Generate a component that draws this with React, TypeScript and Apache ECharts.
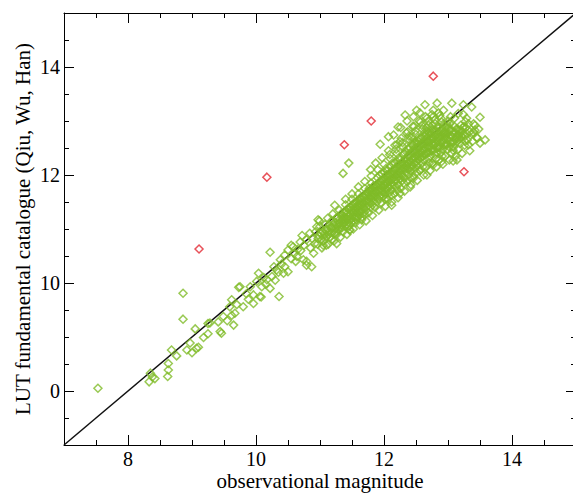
import React, { useEffect, useRef } from 'react';
import * as echarts from 'echarts';

const axisMin = 7;
const axisMax = 15;
const minorStep = 0.5;
const majorTickValues = [8, 10, 12, 14];
const xTickLabels = ['8', '10', '12', '14'];
const yTickLabels = ['0', '10', '12', '14'];
const xTitle = 'observational magnitude';
const yTitle = 'LUT fundamental catalogue (Qiu, Wu, Han)';
const identityLine = [[7, 7], [15, 15]];

const outlierPoints = [
  [9.11, 10.63], [10.17, 11.96], [11.38, 12.56], [11.8, 13.0], [12.77, 13.83], [13.25, 12.06],
];

const sparsePoints = [
  [7.53, 8.05],
  [8.33, 8.17], [8.35, 8.33], [8.42, 8.23], [8.38, 8.26],
  [8.62, 8.27], [8.63, 8.39], [8.63, 8.51], [8.68, 8.76], [8.76, 8.65],
  [8.86, 9.33], [8.86, 9.81],
  [8.92, 8.76], [8.97, 8.89], [9.0, 8.71], [9.07, 8.79], [9.1, 8.81], [9.05, 9.15], [9.18, 8.99],
  [9.25, 9.25], [9.28, 9.26], [9.25, 9.06], [9.41, 9.28], [9.44, 9.1],
  [9.46, 9.07], [9.49, 9.38], [9.59, 9.56], [9.62, 9.69], [9.65, 9.22], [9.67, 9.44], [9.73, 9.92],
  [9.75, 9.93], [9.8, 9.56], [9.62, 9.4], [9.55, 9.3], [9.7, 9.6],
  [9.91, 9.93], [9.96, 9.62], [9.96, 9.78], [10.01, 10.03], [10.04, 10.18], [10.06, 9.75], [10.08, 9.74],
  [10.09, 9.93], [10.17, 10.06], [10.22, 9.9], [10.22, 10.57], [10.25, 10.12], [10.32, 10.24], [10.36, 9.75],
  [10.38, 10.43], [10.43, 10.18], [10.45, 10.52], [10.5, 10.21], [10.5, 10.61], [10.58, 10.67], [10.64, 10.49],
  [10.69, 10.76], [10.74, 10.43], [10.79, 10.33], [10.79, 10.4], [10.79, 10.8], [10.87, 10.3], [10.84, 10.92],
  [10.9, 10.55], [10.92, 10.73], [10.95, 11.04], [10.97, 11.17],
  [10.12, 10.1], [10.28, 10.3], [10.35, 10.2], [10.4, 10.35], [10.55, 10.45], [10.6, 10.55], [10.65, 10.62],
  [10.7, 10.6], [10.75, 10.7], [10.3, 10.05], [10.15, 9.98], [9.85, 9.8], [9.88, 9.7], [10.45, 10.3],
  [10.55, 10.7], [10.62, 10.4], [10.72, 10.88], [10.85, 10.65], [10.88, 10.82], [10.93, 10.95],
];

const clusterPoints = [
  [10.96, 10.72], [10.98, 10.88], [11.0, 11.05], [11.02, 10.8], [11.04, 10.95], [10.99, 11.15], [11.03, 10.65],
  [11.06, 10.78], [11.07, 10.92], [11.08, 11.08], [11.1, 10.85], [11.11, 11.0], [11.12, 11.2], [11.13, 10.72], [11.14, 10.95],
  [11.16, 10.85], [11.17, 11.02], [11.18, 11.15], [11.19, 10.93], [11.2, 11.28], [11.21, 11.08], [11.22, 10.78], [11.24, 11.0], [11.25, 11.2],
  [11.26, 10.9], [11.27, 11.05], [11.28, 11.22], [11.29, 10.98], [11.3, 11.35], [11.31, 11.12], [11.32, 10.85], [11.33, 11.28], [11.34, 11.02], [11.35, 11.18],
  [11.36, 10.95], [11.37, 11.1], [11.38, 11.3], [11.39, 11.05], [11.4, 11.45], [11.41, 11.2], [11.42, 10.9], [11.43, 11.38], [11.44, 11.12], [11.45, 11.25], [11.4, 11.55],
  [11.46, 11.05], [11.47, 11.2], [11.48, 11.4], [11.49, 11.12], [11.5, 11.55], [11.51, 11.3], [11.52, 11.0], [11.53, 11.48], [11.54, 11.22], [11.55, 11.35], [11.5, 11.65], [11.52, 11.15],
  [11.56, 11.12], [11.57, 11.3], [11.58, 11.5], [11.59, 11.22], [11.6, 11.65], [11.61, 11.4], [11.62, 11.08], [11.63, 11.58], [11.64, 11.32], [11.65, 11.45], [11.6, 11.78], [11.62, 11.25], [11.58, 11.38],
  [11.66, 11.22], [11.67, 11.4], [11.68, 11.6], [11.69, 11.3], [11.7, 11.75], [11.71, 11.5], [11.72, 11.15], [11.73, 11.68], [11.74, 11.42], [11.75, 11.55], [11.7, 11.88], [11.72, 11.35], [11.68, 11.48], [11.74, 11.62],
  [11.76, 11.3], [11.77, 11.5], [11.78, 11.7], [11.79, 11.4], [11.8, 11.85], [11.81, 11.6], [11.82, 11.25], [11.83, 11.78], [11.84, 11.52], [11.85, 11.65], [11.8, 11.98], [11.82, 11.45], [11.78, 11.58], [11.84, 11.72], [11.79, 12.1],
  [11.86, 11.4], [11.87, 11.6], [11.88, 11.8], [11.89, 11.5], [11.9, 11.95], [11.91, 11.7], [11.92, 11.35], [11.93, 11.88], [11.94, 11.62], [11.95, 11.75], [11.9, 12.1], [11.92, 11.55], [11.88, 11.68], [11.94, 11.82], [11.87, 12.22], [11.93, 12.0],
  [11.96, 11.48], [11.97, 11.7], [11.98, 11.9], [11.99, 11.6], [12.0, 12.05], [12.01, 11.8], [12.02, 11.42], [12.03, 11.98], [12.04, 11.72], [12.05, 11.85], [12.0, 12.2], [12.02, 11.65], [11.98, 11.78], [12.04, 11.92], [11.97, 12.32], [12.03, 12.12], [12.01, 11.55],
  [12.06, 11.55], [12.07, 11.78], [12.08, 12.0], [12.09, 11.68], [12.1, 12.15], [12.11, 11.9], [12.12, 11.5], [12.13, 12.08], [12.14, 11.82], [12.15, 11.95], [12.1, 12.3], [12.12, 11.72], [12.08, 11.88], [12.14, 12.02], [12.07, 12.45], [12.13, 12.22], [12.11, 11.62], [12.09, 12.38],
  [12.16, 11.65], [12.17, 11.88], [12.18, 12.1], [12.19, 11.78], [12.2, 12.25], [12.21, 12.0], [12.22, 11.58], [12.23, 12.18], [12.24, 11.92], [12.25, 12.05], [12.2, 12.4], [12.22, 11.82], [12.18, 11.98], [12.24, 12.12], [12.17, 12.55], [12.23, 12.32], [12.21, 11.72], [12.19, 12.48], [12.25, 12.62],
  [12.26, 11.75], [12.27, 12.0], [12.28, 12.22], [12.29, 11.9], [12.3, 12.38], [12.31, 12.12], [12.32, 11.7], [12.33, 12.3], [12.34, 12.05], [12.35, 12.18], [12.3, 12.52], [12.32, 11.95], [12.28, 12.1], [12.34, 12.25], [12.27, 12.68], [12.33, 12.45], [12.31, 11.85], [12.29, 12.6], [12.35, 12.78], [12.26, 12.88],
  [12.36, 11.88], [12.37, 12.12], [12.38, 12.35], [12.39, 12.02], [12.4, 12.5], [12.41, 12.25], [12.42, 11.82], [12.43, 12.42], [12.44, 12.18], [12.45, 12.3], [12.4, 12.65], [12.42, 12.08], [12.38, 12.22], [12.44, 12.38], [12.37, 12.8], [12.43, 12.58], [12.41, 11.95], [12.39, 12.72], [12.45, 12.9], [12.36, 13.0], [12.44, 12.7],
  [12.46, 11.98], [12.47, 12.22], [12.48, 12.45], [12.49, 12.12], [12.5, 12.6], [12.51, 12.35], [12.52, 11.9], [12.53, 12.52], [12.54, 12.28], [12.55, 12.4], [12.5, 12.75], [12.52, 12.18], [12.48, 12.32], [12.54, 12.48], [12.47, 12.9], [12.53, 12.68], [12.51, 12.05], [12.49, 12.82], [12.55, 13.0], [12.46, 13.08], [12.54, 12.62], [12.5, 12.25],
  [12.56, 12.08], [12.57, 12.32], [12.58, 12.55], [12.59, 12.22], [12.6, 12.7], [12.61, 12.45], [12.62, 12.0], [12.63, 12.62], [12.64, 12.38], [12.65, 12.5], [12.6, 12.85], [12.62, 12.28], [12.58, 12.42], [12.64, 12.58], [12.57, 12.98], [12.63, 12.78], [12.61, 12.15], [12.59, 12.92], [12.65, 13.08], [12.56, 13.15], [12.64, 12.72], [12.6, 12.35],
  [12.66, 12.15], [12.67, 12.4], [12.68, 12.62], [12.69, 12.3], [12.7, 12.78], [12.71, 12.52], [12.72, 12.08], [12.73, 12.7], [12.74, 12.45], [12.75, 12.58], [12.7, 12.92], [12.72, 12.35], [12.68, 12.5], [12.74, 12.65], [12.67, 13.05], [12.73, 12.85], [12.71, 12.22], [12.69, 13.0], [12.75, 13.12], [12.66, 12.88], [12.74, 12.78], [12.7, 12.42],
  [12.76, 12.22], [12.77, 12.45], [12.78, 12.68], [12.79, 12.38], [12.8, 12.82], [12.81, 12.58], [12.82, 12.15], [12.83, 12.75], [12.84, 12.5], [12.85, 12.64], [12.8, 12.95], [12.82, 12.42], [12.78, 12.55], [12.84, 12.7], [12.77, 13.08], [12.83, 12.88], [12.81, 12.3], [12.79, 13.02], [12.85, 13.15], [12.76, 12.92],
  [12.86, 12.28], [12.87, 12.5], [12.88, 12.72], [12.89, 12.42], [12.9, 12.85], [12.91, 12.62], [12.92, 12.2], [12.93, 12.78], [12.94, 12.55], [12.95, 12.68], [12.9, 12.98], [12.92, 12.48], [12.88, 12.6], [12.94, 12.75], [12.87, 13.1], [12.93, 12.92], [12.91, 12.35], [12.89, 13.05],
  [12.96, 12.35], [12.97, 12.55], [12.98, 12.75], [12.99, 12.48], [13.0, 12.88], [13.01, 12.65], [13.02, 12.28], [13.03, 12.82], [13.04, 12.6], [13.05, 12.72], [13.0, 13.0], [13.02, 12.52], [12.98, 12.95], [13.04, 13.08],
  [13.06, 12.4], [13.07, 12.6], [13.08, 12.78], [13.09, 12.52], [13.1, 12.9], [13.11, 12.68], [13.12, 12.35], [13.13, 12.85], [13.14, 12.62], [13.15, 12.75], [13.1, 13.05],
  [13.16, 12.48], [13.17, 12.65], [13.18, 12.82], [13.19, 12.58], [13.2, 12.92], [13.21, 12.72], [13.22, 12.4], [13.23, 12.88], [13.24, 13.12],
  [13.26, 12.55], [13.27, 12.72], [13.28, 12.88], [13.3, 12.65], [13.32, 12.95], [13.34, 12.8], [13.29, 13.05],
  [13.38, 12.62], [13.4, 12.78], [13.42, 12.92], [13.45, 12.7], [13.48, 12.85],
];

const coreExtraPoints = [
  [11.31, 11.18], [11.33, 11.08], [11.35, 11.25], [11.37, 11.15], [11.39, 11.22], [11.41, 11.32], [11.43, 11.18], [11.45, 11.38], [11.47, 11.28], [11.49, 11.35],
  [11.51, 11.42], [11.53, 11.32], [11.55, 11.48], [11.56, 11.4], [11.58, 11.3], [11.6, 11.52], [11.62, 11.45], [11.64, 11.55], [11.66, 11.48], [11.68, 11.38], [11.69, 11.58],
  [11.71, 11.62], [11.73, 11.52], [11.75, 11.68], [11.76, 11.6], [11.78, 11.48], [11.8, 11.72], [11.82, 11.65], [11.84, 11.8], [11.86, 11.7], [11.88, 11.58], [11.89, 11.78], [11.77, 11.75], [11.83, 11.58],
  [11.91, 11.82], [11.93, 11.72], [11.95, 11.88], [11.96, 11.8], [11.98, 11.68], [12.0, 11.92], [12.02, 11.85], [12.04, 12.0], [12.06, 11.9], [12.08, 11.78], [12.09, 11.98], [11.97, 12.02], [12.03, 11.75], [12.05, 12.08],
  [12.11, 12.02], [12.13, 11.92], [12.15, 12.1], [12.16, 12.02], [12.18, 11.9], [12.2, 12.12], [12.22, 12.05], [12.24, 12.2], [12.26, 12.1], [12.28, 11.98], [12.29, 12.18], [12.17, 12.22], [12.23, 11.98], [12.25, 12.28], [12.12, 11.85],
  [12.31, 12.22], [12.33, 12.12], [12.35, 12.3], [12.36, 12.22], [12.38, 12.1], [12.4, 12.35], [12.42, 12.25], [12.44, 12.45], [12.46, 12.32], [12.48, 12.2], [12.49, 12.42], [12.37, 12.48], [12.43, 12.15], [12.45, 12.55], [12.32, 12.4], [12.47, 12.6],
  [12.51, 12.45], [12.53, 12.35], [12.55, 12.52], [12.56, 12.45], [12.58, 12.32], [12.6, 12.58], [12.62, 12.48], [12.64, 12.65], [12.66, 12.55], [12.68, 12.42], [12.69, 12.62], [12.57, 12.68], [12.63, 12.38], [12.65, 12.75], [12.52, 12.58], [12.67, 12.82],
  [12.71, 12.62], [12.73, 12.52], [12.75, 12.68], [12.76, 12.6], [12.78, 12.48], [12.8, 12.72], [12.82, 12.62], [12.84, 12.8], [12.86, 12.7], [12.88, 12.55], [12.89, 12.78], [12.77, 12.82], [12.83, 12.52], [12.85, 12.9], [12.72, 12.75],
  [12.91, 12.72], [12.93, 12.62], [12.95, 12.8], [12.96, 12.7], [12.98, 12.58], [13.0, 12.78], [13.02, 12.7], [13.04, 12.85], [13.06, 12.72], [13.08, 12.62], [12.97, 12.88], [13.03, 12.95],
  [13.11, 12.78], [13.13, 12.7], [13.15, 12.85], [13.17, 12.75], [13.19, 12.68], [13.21, 12.82], [13.23, 12.75], [13.25, 12.9],
  [10.97, 10.82], [11.01, 10.92], [11.05, 10.86], [11.09, 10.98], [11.13, 10.9], [11.15, 11.08], [11.19, 11.02], [11.23, 11.12],
  [11.25, 10.95], [11.29, 11.1], [11.32, 11.02], [11.36, 11.22], [11.38, 11.12], [11.42, 11.28], [11.44, 11.05], [11.48, 11.18],
  [11.52, 11.25], [11.54, 11.38], [11.57, 11.22], [11.59, 11.45], [11.61, 11.32], [11.63, 11.48], [11.05, 10.7], [11.18, 10.8],
];

const fringePoints = [
  [11.1, 10.7], [11.26, 10.73], [11.23, 10.92], [11.47, 10.98], [11.57, 11.17], [11.23, 11.44], [11.63, 11.54],
  [11.81, 11.72], [11.45, 12.22], [11.36, 12.03], [11.94, 12.57], [12.07, 12.71], [12.2, 12.56], [12.12, 11.44],
  [12.04, 11.57], [11.46, 10.98], [11.65, 11.17], [11.7, 11.26], [11.63, 11.35],
  [13.08, 12.26], [13.34, 12.45], [13.46, 12.68], [13.5, 12.59], [13.08, 12.46], [13.06, 13.33], [13.24, 13.3],
  [13.37, 13.26], [13.5, 13.07], [13.4, 12.95], [13.42, 12.83], [13.29, 12.77], [13.27, 12.62], [13.16, 12.71],
  [13.14, 12.28], [13.06, 12.52], [13.32, 12.56], [13.37, 12.77], [12.33, 13.11], [12.51, 13.2], [12.64, 13.3],
  [12.77, 13.2], [12.22, 12.89], [12.15, 12.74], [12.93, 13.2], [13.16, 13.14], [13.27, 12.99], [12.56, 12.09],
  [12.67, 12.0], [12.46, 11.94], [12.77, 12.19], [12.9, 12.25], [12.41, 11.78], [12.25, 11.66], [13.58, 12.65],
  [12.83, 13.33],
];

const FONT = "'Liberation Serif', 'Times New Roman', serif";
const GREEN = '#80bc28';
const RED = '#e2262f';

function labelFor(labels: string[]) {
  return (v: number) => {
    const i = majorTickValues.findIndex((t) => Math.abs(t - v) < 1e-6);
    return i >= 0 ? labels[i] : '';
  };
}

function minorAxis(position: string, extra: any = {}) {
  return {
    type: 'value',
    position,
    min: axisMin,
    max: axisMax,
    interval: minorStep,
    axisLine: { show: true, onZero: false, lineStyle: { color: '#000', width: 1 } },
    axisTick: { show: true, inside: true, length: 5, lineStyle: { color: '#000', width: 1 } },
    axisLabel: { show: false },
    splitLine: { show: false },
    ...extra,
  };
}

function majorAxis(position: string, labels: string[] | null) {
  return {
    type: 'value',
    position,
    min: axisMin,
    max: axisMax,
    axisLine: { show: false, onZero: false },
    axisTick: {
      show: true,
      inside: true,
      length: 10,
      customValues: majorTickValues,
      lineStyle: { color: '#000', width: 1 },
    },
    axisLabel: labels
      ? {
          show: true,
          customValues: majorTickValues,
          formatter: labelFor(labels),
          fontFamily: FONT,
          fontSize: 20,
          lineHeight: 16,
          color: '#000',
          margin: position === 'bottom' ? 6 : 4,
        }
      : { show: false },
    splitLine: { show: false },
  };
}

export default function App() {
  const ref = useRef<HTMLDivElement>(null);
  useEffect(() => {
    if (!ref.current) return;
    const chart = echarts.init(ref.current, null, { renderer: 'svg' });
    const greenPoints = [...sparsePoints, ...clusterPoints, ...coreExtraPoints, ...fringePoints];
    chart.setOption({
      animation: false,
      backgroundColor: '#fff',
      grid: { left: 64, top: 13, width: 512, height: 432, containLabel: false, outerBoundsMode: 'none' },
      xAxis: [
        minorAxis('bottom', {
          name: xTitle,
          nameLocation: 'middle',
          nameGap: 28,
          nameTextStyle: { fontFamily: FONT, fontSize: 21, lineHeight: 16, color: '#000' },
        }),
        majorAxis('bottom', xTickLabels),
        minorAxis('top'),
        majorAxis('top', null),
      ],
      yAxis: [
        minorAxis('left', {
          name: yTitle,
          nameLocation: 'middle',
          nameGap: 31,
          nameTextStyle: { fontFamily: FONT, fontSize: 21, color: '#000' },
        }),
        majorAxis('left', yTickLabels),
        minorAxis('right'),
        majorAxis('right', null),
      ],
      series: [
        {
          type: 'line',
          xAxisIndex: 0,
          yAxisIndex: 0,
          data: identityLine,
          symbol: 'none',
          lineStyle: { color: '#111', width: 1.5 },
          z: 1,
        },
        {
          type: 'scatter',
          xAxisIndex: 0,
          yAxisIndex: 0,
          data: greenPoints,
          symbol: 'diamond',
          symbolSize: 8,
          itemStyle: { color: 'rgba(0,0,0,0)', borderColor: GREEN, borderWidth: 1.5 },
          z: 2,
        },
        {
          type: 'scatter',
          xAxisIndex: 0,
          yAxisIndex: 0,
          data: outlierPoints,
          symbol: 'diamond',
          symbolSize: 8,
          itemStyle: { color: 'rgba(0,0,0,0)', borderColor: RED, borderWidth: 1.5 },
          z: 3,
        },
      ],
    });
    return () => chart.dispose();
  }, []);
  return (
    <div
      ref={ref}
      style={{ position: 'fixed', left: 0, top: 0, width: 573, height: 493, background: '#fff' }}
    />
  );
}
